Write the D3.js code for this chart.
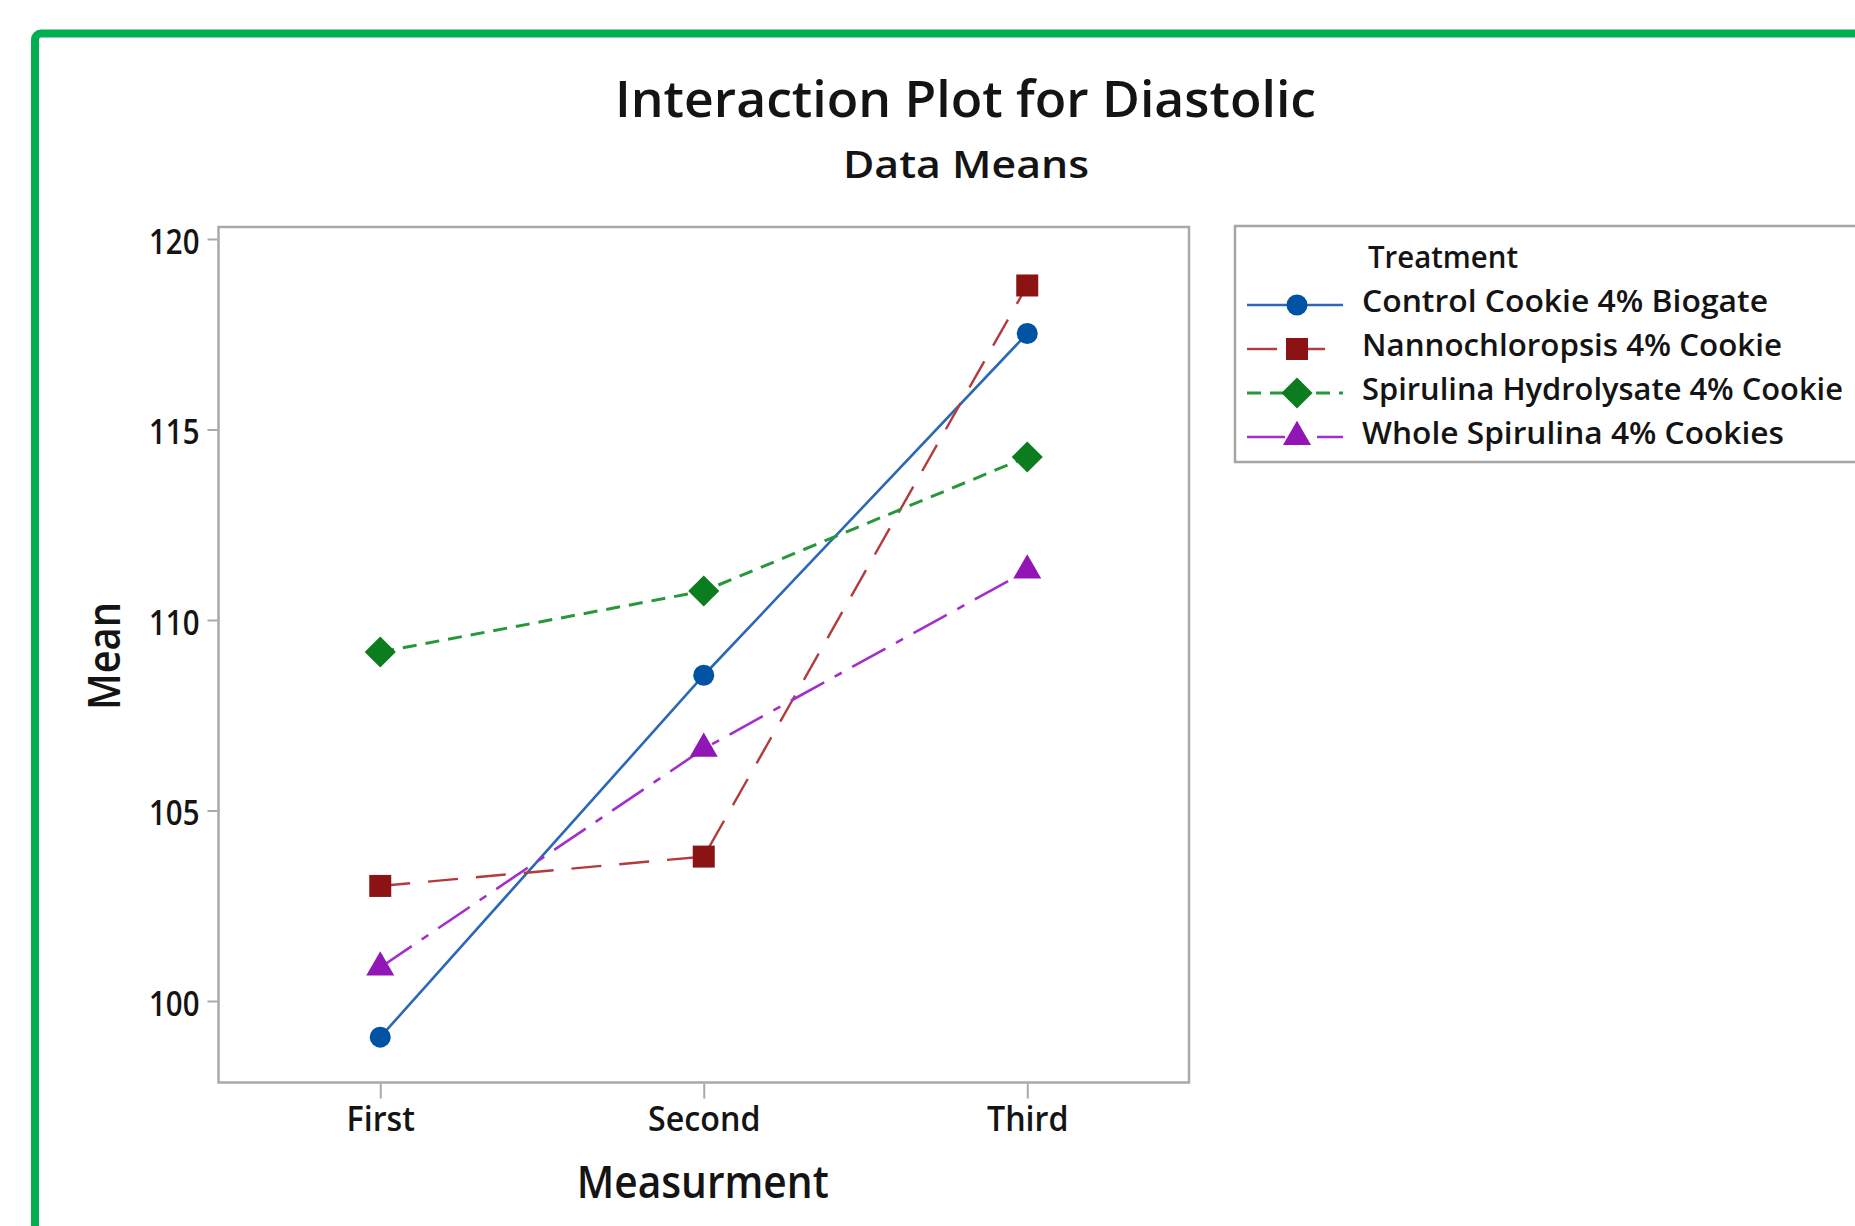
<!DOCTYPE html>
<html>
<head>
<meta charset="utf-8">
<script src="https://cdn.jsdelivr.net/npm/d3@7"></script>
<style>
  html, body { margin: 0; padding: 0; background: #ffffff; }
  svg { display: block; }
  text { font-family: "Open Sans", "Noto Sans", "DejaVu Sans", sans-serif; fill: #141414; }
</style>
</head>
<body>
<svg id="chart" width="1855" height="1226"></svg>
<script>
// ---------------- data ----------------
const categories = ["First", "Second", "Third"];
const seriesNames = [
  "Control  Cookie 4% Biogate",
  "Nannochloropsis 4% Cookie",
  "Spirulina Hydrolysate 4% Cookie",
  "Whole Spirulina 4% Cookies"
];
const controlValues = [99.05, 108.55, 117.52];
const nannoValues = [103.02, 103.79, 118.78];
const spirulinaHydroValues = [109.16, 110.76, 114.28];
const wholeSpirulinaValues = [100.88, 106.62, 111.30];
const yTickValues = [100, 105, 110, 115, 120];
const titleText = "Interaction Plot for Diastolic";
const subtitleText = "Data Means";
const xAxisTitle = "Measurment";
const yAxisTitle = "Mean";
const legendTitle = "Treatment";

// ---------------- styles ----------------
const styles = [
  { line: "#2b69b6", marker: "#0052a3", dash: null, width: 2.6, symbol: "circle" },
  { line: "#b23c3c", marker: "#8c1313", dash: "30 18", width: 2.4, symbol: "square" },
  { line: "#27983a", marker: "#0b7d1f", dash: "14 9", width: 3, symbol: "diamond" },
  { line: "#a22fcb", marker: "#9215b6", dash: "38 12 8 12", width: 2.6, symbol: "triangle" }
];
const allValues = [controlValues, nannoValues, spirulinaHydroValues, wholeSpirulinaValues];
const series = seriesNames.map((name, i) => ({ name, values: allValues[i], style: styles[i] }));

const svg = d3.select("#chart");

function fitWidth(sel, target) {
  sel.each(function () {
    this.setAttribute("textLength", target);
    this.setAttribute("lengthAdjust", "spacingAndGlyphs");
  });
}
function squeeze(sel, factor) {
  sel.each(function () {
    const w = this.getComputedTextLength();
    this.setAttribute("textLength", w * factor);
    this.setAttribute("lengthAdjust", "spacingAndGlyphs");
  });
}

// green outer border
svg.append("rect")
  .attr("x", 35).attr("y", 33.5)
  .attr("width", 1900).attr("height", 1300)
  .attr("rx", 6)
  .attr("fill", "none")
  .attr("stroke", "#00b050")
  .attr("stroke-width", 8);

const plot = { left: 218.5, right: 1189, top: 227, bottom: 1082.5 };

const x = d3.scalePoint()
  .domain(categories)
  .range([plot.left, plot.right])
  .padding(0.5);

const y = d3.scaleLinear()
  .domain([100, 120])
  .range([1001, 239]);

// titles
const t1 = svg.append("text")
  .attr("x", 615).attr("y", 117)
  .attr("font-size", 50).attr("font-weight", 600)
  .text(titleText);
fitWidth(t1, 701);

const t2 = svg.append("text")
  .attr("x", 843).attr("y", 178)
  .attr("font-size", 38).attr("font-weight", 600)
  .text(subtitleText);
fitWidth(t2, 246);

// frame
svg.append("rect")
  .attr("x", plot.left).attr("y", plot.top)
  .attr("width", plot.right - plot.left)
  .attr("height", plot.bottom - plot.top)
  .attr("fill", "none")
  .attr("stroke", "#a9a9a9")
  .attr("stroke-width", 2.5);

// y axis
const yAxis = svg.append("g")
  .attr("transform", `translate(${plot.left - 1},0)`)
  .call(d3.axisLeft(y).tickValues(yTickValues).tickSize(10).tickPadding(8).tickFormat(d3.format("d")));
yAxis.select(".domain").remove();
yAxis.selectAll(".tick line").attr("stroke", "#a9a9a9").attr("stroke-width", 2);
yAxis.selectAll(".tick text")
  .attr("font-size", 35).attr("font-weight", 600)
  .attr("dy", "0.40em")
  .attr("fill", "#141414")
  .style("font-family", '"Open Sans", "Noto Sans", sans-serif');
squeeze(yAxis.selectAll(".tick text"), 0.84);

// x axis
const xAxis = svg.append("g")
  .attr("transform", `translate(0,${plot.bottom + 1})`)
  .call(d3.axisBottom(x).tickSize(15).tickPadding(8));
xAxis.select(".domain").remove();
xAxis.selectAll(".tick line").attr("stroke", "#a9a9a9").attr("stroke-width", 2);
xAxis.selectAll(".tick text")
  .attr("font-size", 35).attr("font-weight", 600)
  .attr("dy", "0.71em")
  .attr("fill", "#141414")
  .style("font-family", '"Open Sans", "Noto Sans", sans-serif');
squeeze(xAxis.selectAll(".tick text"), 0.92);

// axis titles
const xt = svg.append("text")
  .attr("x", (plot.left + plot.right) / 2 - 1).attr("y", 1198)
  .attr("text-anchor", "middle")
  .attr("font-size", 45).attr("font-weight", 600)
  .text(xAxisTitle);
fitWidth(xt, 252);

const yt = svg.append("text")
  .attr("transform", "translate(120,656) rotate(-90)")
  .attr("text-anchor", "middle")
  .attr("font-size", 46).attr("font-weight", 600)
  .text(yAxisTitle);
fitWidth(yt, 108);

function symbolPath(kind) {
  if (kind === "circle") return d3.symbol().type(d3.symbolCircle).size(Math.PI * 10.5 * 10.5)();
  if (kind === "square") return d3.symbol().type(d3.symbolSquare).size(22 * 22)();
  if (kind === "diamond") return d3.symbol().type(d3.symbolSquare).size(22 * 22)();
  return d3.symbol().type(d3.symbolTriangle).size(340)();
}
function symbolRotate(kind) { return kind === "diamond" ? " rotate(45)" : ""; }

const lineGen = d3.line()
  .x((d, i) => x(categories[i]))
  .y(d => y(d));

const gSeries = svg.append("g");
series.forEach(s => {
  gSeries.append("path")
    .datum(s.values)
    .attr("d", lineGen)
    .attr("fill", "none")
    .attr("stroke", s.style.line)
    .attr("stroke-width", s.style.width)
    .attr("stroke-dasharray", s.style.dash);
});
series.forEach(s => {
  gSeries.selectAll(null)
    .data(s.values)
    .enter().append("path")
    .attr("d", symbolPath(s.style.symbol))
    .attr("transform", (d, i) => `translate(${x(categories[i])},${y(d)})${symbolRotate(s.style.symbol)}`)
    .attr("fill", s.style.marker);
});

// legend
const legend = svg.append("g");
legend.append("rect")
  .attr("x", 1235).attr("y", 226)
  .attr("width", 700).attr("height", 236)
  .attr("fill", "#ffffff")
  .attr("stroke", "#a5a5a5")
  .attr("stroke-width", 2.5);

const lt = legend.append("text")
  .attr("x", 1368).attr("y", 268)
  .attr("font-size", 30).attr("font-weight", 600)
  .text(legendTitle);
fitWidth(lt, 150);

const legendWidths = [406, 420, 481, 422];
series.forEach((s, i) => {
  const base = 312 + i * 44;
  const cy = base - 7;
  legend.append("line")
    .attr("x1", 1247).attr("x2", 1343)
    .attr("y1", cy).attr("y2", cy)
    .attr("stroke", s.style.line)
    .attr("stroke-width", s.style.width)
    .attr("stroke-dasharray", s.style.dash);
  legend.append("path")
    .attr("d", symbolPath(s.style.symbol))
    .attr("transform", `translate(1297,${cy})${symbolRotate(s.style.symbol)}`)
    .attr("fill", s.style.marker);
  const tx = legend.append("text")
    .attr("x", 1362).attr("y", base)
    .attr("font-size", 31).attr("font-weight", 600)
    .text(s.name);
  fitWidth(tx, legendWidths[i]);
});
</script>
</body>
</html>
